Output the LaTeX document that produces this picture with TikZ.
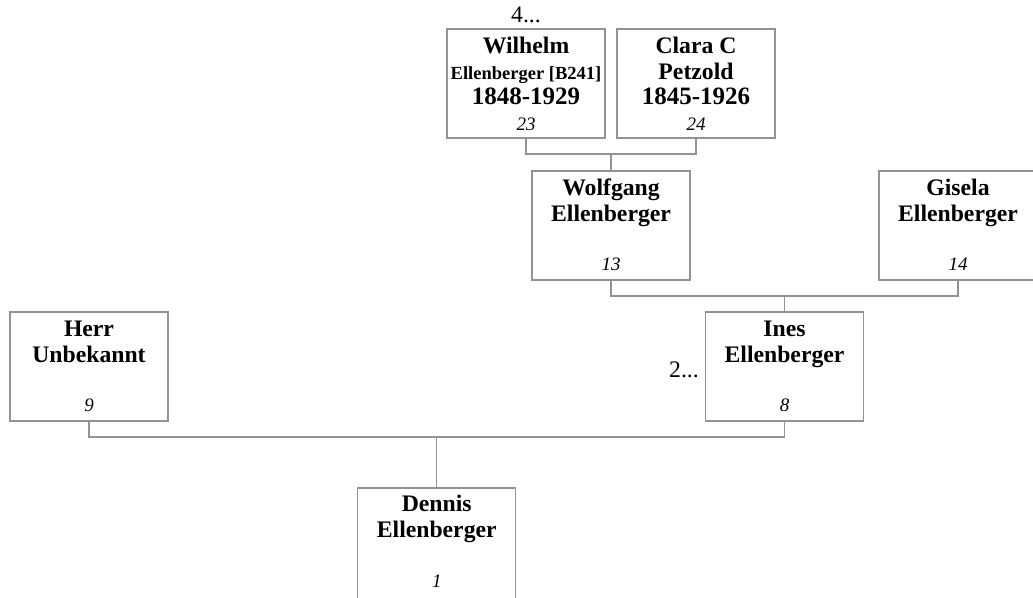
\documentclass[tikz,border=0pt]{standalone}
\usepackage{fontspec}
\setmainfont{Liberation Serif}

\tikzset{
  person/.style={draw=gray!85, line width=1.1pt, minimum width=158pt, minimum height=109pt, inner sep=0pt},
  pname/.style={anchor=base, inner sep=0pt, font=\fontsize{23.7}{26}\selectfont\bfseries},
  psmall/.style={anchor=base, inner sep=0pt, font=\fontsize{18.5}{20}\selectfont\bfseries},
  pdates/.style={anchor=base, inner sep=0pt, font=\fontsize{25}{28}\selectfont\bfseries},
  pnum/.style={anchor=base, inner sep=0pt, font=\fontsize{19}{21}\selectfont\itshape},
  pmore/.style={inner sep=0pt, font=\fontsize{23.7}{26}\selectfont},
  link/.style={draw=gray!85, line width=1.1pt}
}

\begin{document}
\begin{tikzpicture}[x=1pt, y=-1pt]
    \useasboundingbox (0,0) rectangle (1033,597);

    % Boxes {p1, p8, p9, p13, p14, p23, p24}
    \node [person]  (p23)  at (526,83.5)     {};
    \node [person]  (p24)  at (696,83.5)     {};
    \node [person]  (p13)  at (611,225.5)    {};
    \node [person]  (p14)  at (958,225.5)    {};
    \node [person]  (p9)   at (89,366.5)     {};
    \node [person]  (p8)   at (784.5,366.5)  {};
    \node [person, minimum height=112pt]  (p1)   at (436.75,544) {};

    % Texts
    \node [pname]   at ([yshift=-25pt]p23.north)  {Wilhelm};
    \node [psmall]  at ([yshift=-51pt]p23.north)  {Ellenberger [B241]};
    \node [pdates]  at ([yshift=-76pt]p23.north)  {1848-1929};
    \node [pnum]    at ([yshift=-102pt]p23.north) {23};

    \node [pname]   at ([yshift=-25pt]p24.north)  {Clara C};
    \node [pname]   at ([yshift=-51pt]p24.north)  {Petzold};
    \node [pdates]  at ([yshift=-76pt]p24.north)  {1845-1926};
    \node [pnum]    at ([yshift=-102pt]p24.north) {24};

    \node [pname]   at ([yshift=-25pt]p13.north)  {Wolfgang};
    \node [pname]   at ([yshift=-51pt]p13.north)  {Ellenberger};
    \node [pnum]    at ([yshift=-100pt]p13.north) {13};

    \node [pname]   at ([yshift=-25pt]p14.north)  {Gisela};
    \node [pname]   at ([yshift=-51pt]p14.north)  {Ellenberger};
    \node [pnum]    at ([yshift=-100pt]p14.north) {14};

    \node [pname]   at ([yshift=-25pt]p9.north)   {Herr};
    \node [pname]   at ([yshift=-51pt]p9.north)   {Unbekannt};
    \node [pnum]    at ([yshift=-100pt]p9.north)  {9};

    \node [pname]   at ([yshift=-25pt]p8.north)   {Ines};
    \node [pname]   at ([yshift=-51pt]p8.north)   {Ellenberger};
    \node [pnum]    at ([yshift=-100pt]p8.north)  {8};

    \node [pname]   at ([yshift=-24pt]p1.north)   {Dennis};
    \node [pname]   at ([yshift=-50pt]p1.north)   {Ellenberger};
    \node [pnum]    at ([yshift=-100pt]p1.north)  {1};

    \node [pmore, anchor=base]      (m4) at (526,23)  {4...};
    \node [pmore, anchor=base east] (m2) at (699,377) {2...};

    % Paths
    \coordinate (j13) at (611,154);
    \coordinate (j8)  at (784.5,296);
    \coordinate (j1)  at (436.75,437);
    \path [link] (p23.south) |- (j13) -| (p24.south);
    \path [link] (j13) -- (p13.north);
    \path [link] (p13.south) |- (j8) -| (p14.south);
    \path [link] (j8) -- (p8.north);
    \path [link] (p9.south) |- (j1) -| (p8.south);
    \path [link] (j1) -- (p1.north);
\end{tikzpicture}
\end{document}
